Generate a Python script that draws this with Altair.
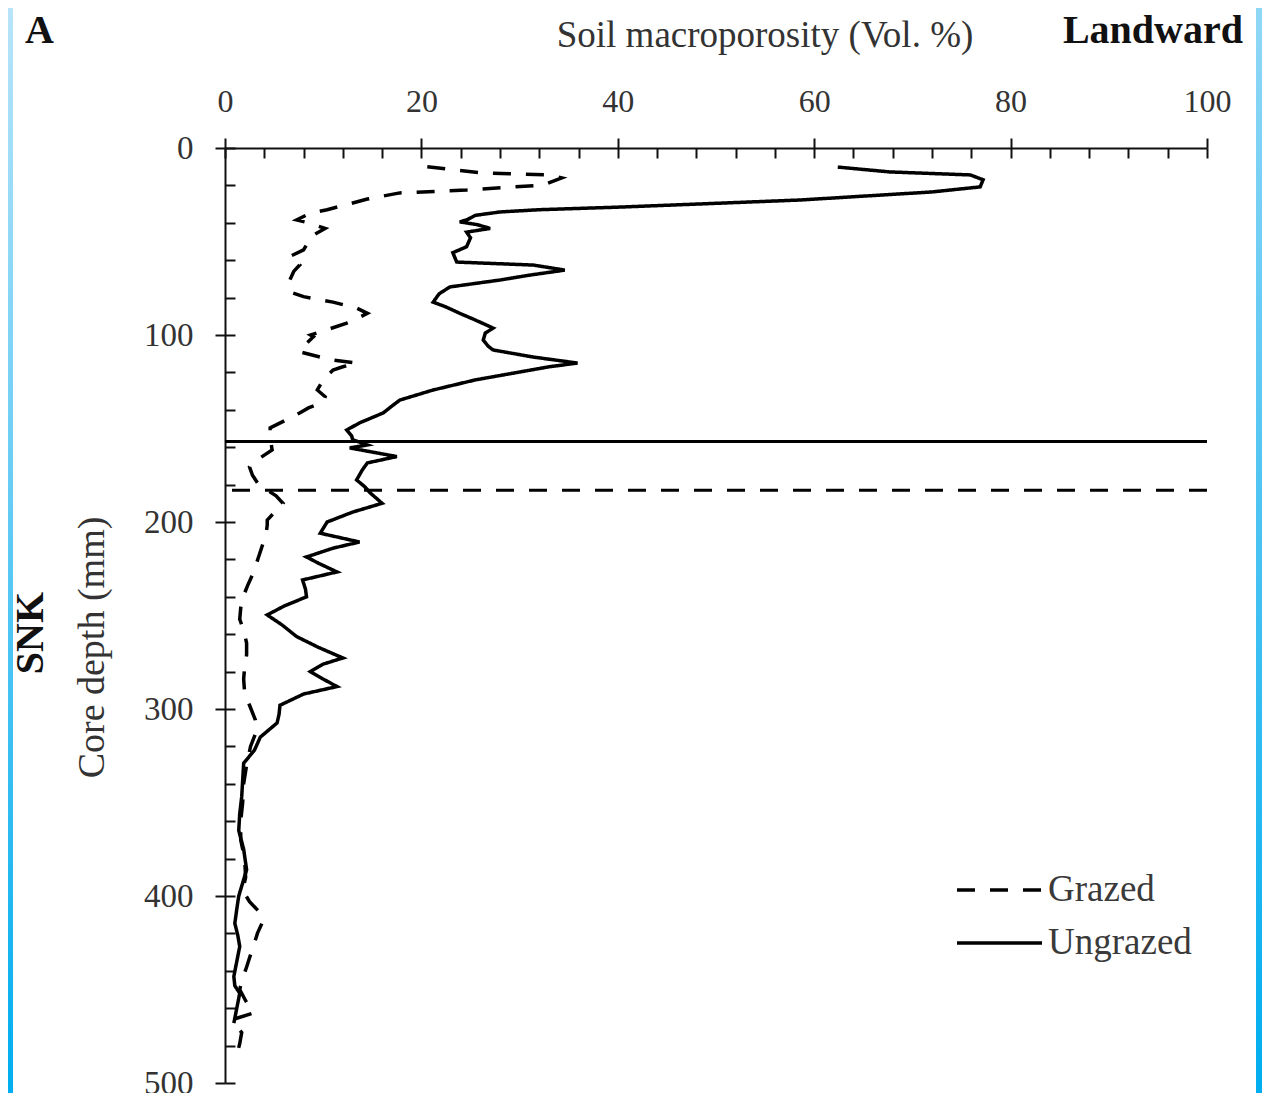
import altair as alt
import pandas as pd

# ---------------- data ----------------
ungrazed_depth = [10.2, 12.8, 14.4, 17, 20.8, 23.5, 27.8, 30, 31.6, 33, 34.2, 36, 38.5, 39.5, 41, 43, 45, 48,
                  52.8, 56, 61, 62.6, 65.3, 68, 70.6, 74.3, 78, 82.4, 85, 88.4, 92, 96.3, 99, 102.7, 106, 108,
                  111.8, 115, 117, 119.8, 124, 129.4, 134.8, 138, 141.7, 147, 150.8, 154, 156, 158.8, 160.4,
                  165, 168.4, 172, 177.5, 181, 184.5, 190, 194.7, 200, 206, 210.7, 214, 218.7, 222, 226.7, 231,
                  236, 240, 245, 249.7, 255, 261.3, 267, 272.7, 276, 280, 284, 288, 292, 298, 303, 307.5, 315,
                  322, 329, 338, 347, 356, 365, 375, 386, 393, 400, 407, 414.6, 421, 427, 435, 443, 448, 452,
                  460, 468]
ungrazed_vol = [62.4, 67.7, 75.9, 77.2, 76.9, 72, 58.6, 48, 40.2, 32, 28, 25.5, 24.6, 23.9, 25.7, 27.0, 24.6, 25.0,
                24.6, 23.2, 23.6, 31.4, 34.6, 31, 28, 22.9, 21.8, 21.2, 22.5, 23.9, 25.5, 27.3, 26.5, 26.3, 26.8, 27.3,
                31.4, 35.9, 33, 30, 25.5, 21.2, 17.8, 17, 16.1, 13.7, 12.4, 12.9, 13, 14.5, 12.7,
                17.5, 14.5, 14, 13.4, 14.2, 14.8, 16, 13, 10.4, 9.7, 13.7, 11, 8.3, 9.5, 11.4, 7.9,
                8.2, 8.3, 6, 4.3, 5.8, 7.3, 9.5, 12, 10, 8.7, 10, 11.4, 8, 5.6, 5.5, 5.3, 3.6,
                3, 1.9, 1.8, 1.7, 1.5, 1.4, 1.9, 2.2, 1.8, 1.4, 1.2, 1.0, 1.3, 1.5, 1.2, 0.9, 1.0, 1.5,
                1.2, 0.9]

grazed_depth = [10, 13.4, 14.4, 16, 19.8, 22.5, 24, 27.3, 33, 34.8, 38.5, 40, 43, 46.5, 50, 54.5, 58, 62.6, 66,
                70.6, 74, 77.5, 79.5, 82.4, 85.6, 88.4, 91, 93.6, 97, 100, 101, 105, 109, 111.8, 113.4, 115,
                117, 118.7, 124, 129.4, 133, 136, 139, 141.7, 144.4, 149.7, 155, 161.5, 166, 170.6, 175, 179,
                183, 186, 190, 195, 199, 201.6, 206, 211, 219, 227, 234, 240.6, 246, 252, 258, 264.7, 271,
                277.5, 284, 291.4, 298, 305.9, 312, 320, 330, 340, 350, 360, 370, 380, 390, 397, 403, 408,
                413, 420, 427, 433, 438, 444, 450, 456, 462.6, 466, 470, 473, 479, 485]
grazed_vol = [20.6, 26.3, 33.1, 34.3, 32.4, 24.6, 17.8, 14.5, 10.4, 8.7, 7.3, 8.5, 10.2, 9.0, 8.5, 8.0, 6.6, 7.6, 7.0,
              6.6, 6.5, 6.9, 8.0, 11, 13.4, 14.5, 13.5, 12.4, 10.5, 8.7, 9.0, 8.2, 7.6, 9.7, 11, 13.4,
              12, 11, 10, 9.4, 10.2, 10, 8.5, 7.6, 6.6, 4.6, 4.6, 4.8, 3.5, 2.5, 2.8, 3.3,
              4.3, 5.2, 5.9, 5.0, 4.3, 4.3, 4.2, 3.9, 3.4, 2.9, 2.3, 1.8, 1.6, 1.5, 1.9, 2.2, 2.2,
              2.0, 1.9, 2.0, 2.5, 3.1, 3.2, 2.6, 2.2, 1.9, 1.8, 1.6, 1.6, 2.0, 2.1, 1.8, 2.5, 3.4,
              3.9, 3.3, 2.9, 2.5, 2.2, 1.8, 1.5, 2.1, 2.9, 0.8, 1.2, 1.7, 1.5, 1.2]

series_names = ["Grazed", "Ungrazed"]
series_dash = [[18, 15], [1, 0]]
boundary_series = ["Ungrazed", "Grazed"]
boundary_depth = [157, 183]

x_major = [0, 20, 40, 60, 80, 100]
x_minor = list(range(0, 101, 4))
y_major = [0, 100, 200, 300, 400, 500]
y_minor = list(range(0, 501, 20))

df = pd.concat([
    pd.DataFrame({"series": "Grazed", "depth": grazed_depth, "vol": grazed_vol}),
    pd.DataFrame({"series": "Ungrazed", "depth": ungrazed_depth, "vol": ungrazed_vol}),
], ignore_index=True)
rules_df = pd.DataFrame({"series": boundary_series, "depth": boundary_depth})
one = pd.DataFrame({"a": [0]})

FONT = "Liberation Serif"
W, H = 982, 935

xscale = alt.Scale(domain=[0, 100], nice=False, zero=False)
yscale = alt.Scale(domain=[0, 500], nice=False, reverse=True, zero=False)
dash_scale = alt.Scale(domain=series_names, range=series_dash)

legend = alt.Legend(
    title=None, orient="none", legendX=730, legendY=722,
    symbolType="stroke", symbolSize=7225, symbolStrokeWidth=3.5, symbolStrokeColor="black",
    symbolOffset=0, labelFont=FONT, labelFontSize=37, labelColor="#3a3a3a", labelOffset=4,
    clipHeight=40, rowPadding=13, padding=0,
)

x_axis_main = alt.Axis(
    orient="top", values=x_major, tickSize=10, tickWidth=2, tickColor="#111",
    domainColor="#111", domainWidth=2, grid=False,
    labelFont=FONT, labelFontSize=32, labelColor="#333", labelPadding=20, labelFlush=False,
    title="Soil macroporosity (Vol. %)", titleFont=FONT, titleFontSize=37, titleFontWeight="normal",
    titleColor="#333", titleX=539.5, titleY=-102, titleAlign="center", titleBaseline="alphabetic",
    titleAngle=0,
)
y_axis_main = alt.Axis(
    orient="left", values=y_major, tickSize=10, tickWidth=2, tickColor="#111",
    domainColor="#111", domainWidth=2, grid=False,
    labelFont=FONT, labelFontSize=33, labelColor="#333", labelPadding=22, labelFlush=False,
    title="Core depth (mm)", titleFont=FONT, titleFontSize=38, titleFontWeight="normal",
    titleColor="#333", titleX=-133, titleY=499, titleAngle=270, titleAlign="center",
    titleBaseline="middle",
)
x_axis_minor = alt.Axis(orient="top", values=x_minor, offset=-10, tickSize=10, tickWidth=2,
                        tickColor="#111", domain=False, labels=False, grid=False, title=None)
y_axis_minor = alt.Axis(orient="left", values=y_minor, offset=-10, tickSize=10, tickWidth=2,
                        tickColor="#111", domain=False, labels=False, grid=False, title=None)

lines = alt.Chart(df).mark_line(color="black", strokeWidth=3.5).encode(
    x=alt.X("vol:Q", scale=xscale, axis=x_axis_main),
    y=alt.Y("depth:Q", scale=yscale, axis=y_axis_main),
    detail="series:N",
    order=alt.Order("depth:Q"),
    strokeDash=alt.StrokeDash("series:N", scale=dash_scale, legend=legend),
)

minor = alt.Chart(df).mark_point(opacity=0).encode(
    x=alt.X("vol:Q", scale=xscale, axis=x_axis_minor),
    y=alt.Y("depth:Q", scale=yscale, axis=y_axis_minor),
)

rules = alt.Chart(rules_df).mark_rule(color="black", strokeWidth=3).encode(
    y=alt.Y("depth:Q", scale=yscale, axis=None),
    strokeDash=alt.StrokeDash("series:N", scale=dash_scale, legend=legend),
)

txt_A = alt.Chart(one).mark_text(text="A", font=FONT, fontSize=40, fontWeight="bold", color="#111",
                                 align="left", baseline="alphabetic").encode(
    x=alt.value(-200), y=alt.value(-105))
txt_land = alt.Chart(one).mark_text(text="Landward", font=FONT, fontSize=40, fontWeight="bold", color="#111",
                                    align="right", baseline="alphabetic").encode(
    x=alt.value(1018), y=alt.value(-105))
txt_snk = alt.Chart(one).mark_text(text="SNK", font=FONT, fontSize=40, fontWeight="bold", color="#111",
                                   align="center", baseline="middle", angle=270).encode(
    x=alt.value(-194), y=alt.value(485))

left_strip = alt.Chart(one).mark_rect(
    color=alt.LinearGradient(gradient="linear", x1=0, x2=0, y1=0, y2=1,
                             stops=[alt.GradientStop(color="#b8e4f9", offset=0),
                                    alt.GradientStop(color="#00aeef", offset=1)])
).encode(x=alt.value(-217), x2=alt.value(-212), y=alt.value(-140), y2=alt.value(945))
right_strip = alt.Chart(one).mark_rect(
    color=alt.LinearGradient(gradient="linear", x1=0, x2=0, y1=0, y2=1,
                             stops=[alt.GradientStop(color="#90d7f6", offset=0),
                                    alt.GradientStop(color="#00aeef", offset=1)])
).encode(x=alt.value(1031), x2=alt.value(1037), y=alt.value(-140), y2=alt.value(945))

chart = alt.layer(
    left_strip, right_strip, rules, lines, minor, txt_A, txt_land, txt_snk
).resolve_axis(x="independent", y="independent").properties(
    width=W, height=H,
    padding={"left": 217, "top": 140, "right": 55, "bottom": 10},
    autosize=alt.AutoSizeParams(type="none"),
    background="white",
).configure_view(strokeWidth=0)

chart.save("out.html", embed_options={"renderer": "svg", "actions": False})
